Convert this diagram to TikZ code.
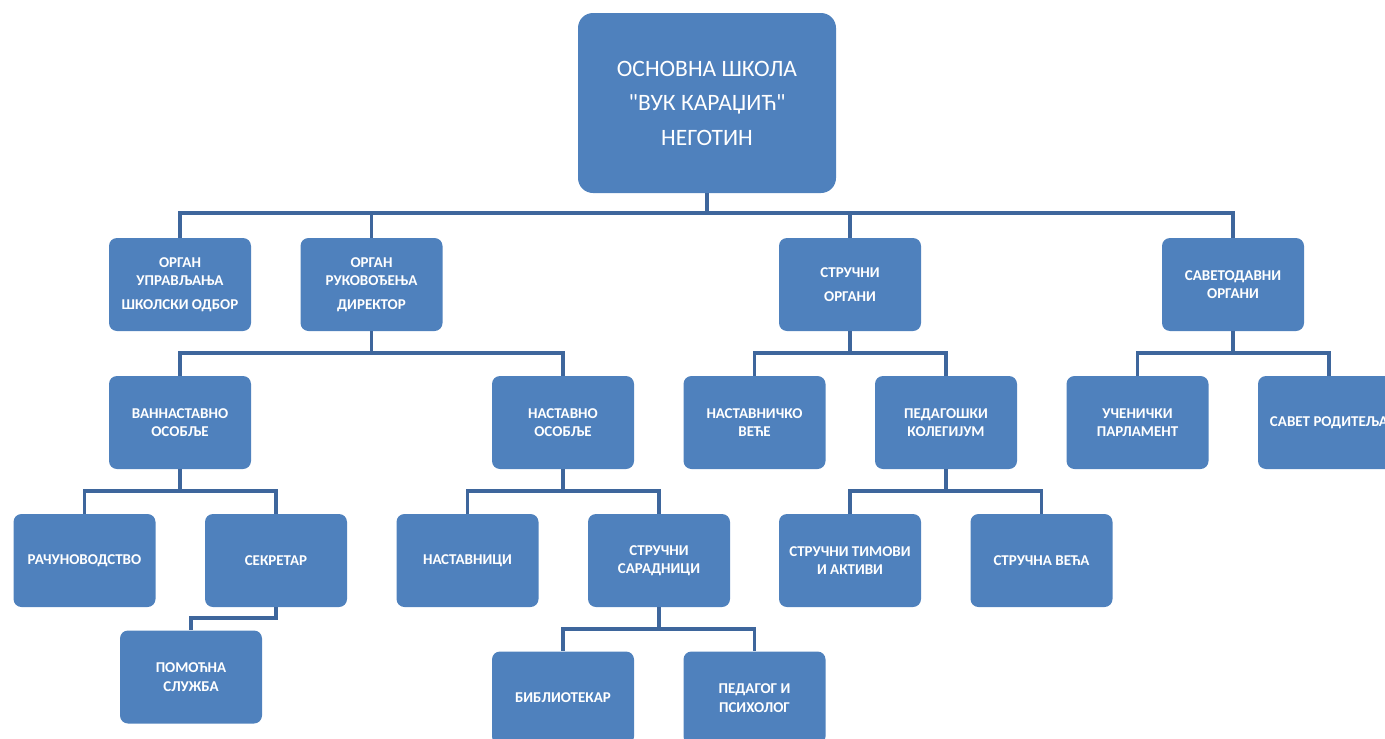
\documentclass[tikz,border=0pt]{standalone}
\usepackage{fontspec}
\setmainfont{Carlito}
\definecolor{boxblue}{RGB}{79,129,189}
\definecolor{lineblue}{RGB}{62,102,156}
\tikzset{
  orgbox/.style={rectangle, rounded corners=8pt, fill=boxblue, minimum width=142pt, minimum height=93pt, inner sep=0pt, text=white, align=center, font=\bfseries\fontsize{15}{18.5}\selectfont},
  topbox/.style={rectangle, rounded corners=15pt, fill=boxblue, minimum width=258pt, minimum height=180pt, inner sep=0pt, text=white, align=center, font=\fontsize{23.5}{34.5}\selectfont},
  conn/.style={draw=lineblue, line width=3.5pt, line join=miter}
}
\begin{document}
\begin{tikzpicture}[x=1pt,y=-1pt]
\useasboundingbox (0,0) rectangle (1385,739);
\clip (0,0) rectangle (1385,739);
% nodes
\node[topbox] (top) at (707,103) {\raisebox{0pt}{ОСНОВНА ШКОЛА}\\\textquotedbl ВУК КАРАЏИЋ\textquotedbl\\НЕГОТИН};
\node[orgbox] (a) at (180,284.5) {ОРГАН\\УПРАВЉАЊА\\[5pt]ШКОЛСКИ ОДБОР};
\node[orgbox] (b) at (371.5,284.5) {ОРГАН\\РУКОВОЂЕЊА\\[5pt]ДИРЕКТОР};
\node[orgbox] (c) at (850,284.5) {СТРУЧНИ\\[5pt]ОРГАНИ};
\node[orgbox] (d) at (1233,284.5) {САВЕТОДАВНИ\\ОРГАНИ};
\node[orgbox] (van) at (180,422.5) {ВАННАСТАВНО\\ОСОБЉЕ};
\node[orgbox] (nast) at (563,422.5) {НАСТАВНО\\ОСОБЉЕ};
\node[orgbox] (nv) at (754.5,422.5) {НАСТАВНИЧКО\\ВЕЋЕ};
\node[orgbox] (pk) at (946,422.5) {ПЕДАГОШКИ\\КОЛЕГИЈУМ};
\node[orgbox] (up) at (1137.5,422.5) {УЧЕНИЧКИ\\ПАРЛАМЕНТ};
\node[orgbox] (sr) at (1329,422.5) {САВЕТ РОДИТЕЉА};
\node[orgbox] (rac) at (84.5,560.5) {РАЧУНОВОДСТВО};
\node[orgbox] (sek) at (276,560.5) {СЕКРЕТАР};
\node[orgbox] (nas) at (467.5,560.5) {НАСТАВНИЦИ};
\node[orgbox] (ss) at (659,560.5) {СТРУЧНИ\\САРАДНИЦИ};
\node[orgbox] (stia) at (850,560.5) {СТРУЧНИ ТИМОВИ\\И АКТИВИ};
\node[orgbox] (sv) at (1041.5,560.5) {СТРУЧНА ВЕЋА};
\node[orgbox] (pom) at (191,677) {ПОМОЋНА\\СЛУЖБА};
\node[orgbox] (bib) at (563,698) {БИБЛИОТЕКАР};
\node[orgbox] (pp) at (754.5,698) {ПЕДАГОГ И\\ПСИХОЛОГ};
% connectors
\foreach \c in {a,b,c,d} \draw[conn] (top.south) -- ++(0,20) -| (\c.north);
\foreach \c in {van,nast} \draw[conn] (b.south) -- ++(0,22) -| (\c.north);
\foreach \c in {nv,pk} \draw[conn] (c.south) -- ++(0,22) -| (\c.north);
\foreach \c in {up,sr} \draw[conn] (d.south) -- ++(0,22) -| (\c.north);
\foreach \c in {rac,sek} \draw[conn] (van.south) -- ++(0,22) -| (\c.north);
\foreach \c in {nas,ss} \draw[conn] (nast.south) -- ++(0,22) -| (\c.north);
\foreach \c in {stia,sv} \draw[conn] (pk.south) -- ++(0,22) -| (\c.north);
\draw[conn] (sek.south) -- ++(0,11) -| (pom.north);
\foreach \c in {bib,pp} \draw[conn] (ss.south) -- ++(0,22) -| (\c.north);
\end{tikzpicture}
\end{document}
